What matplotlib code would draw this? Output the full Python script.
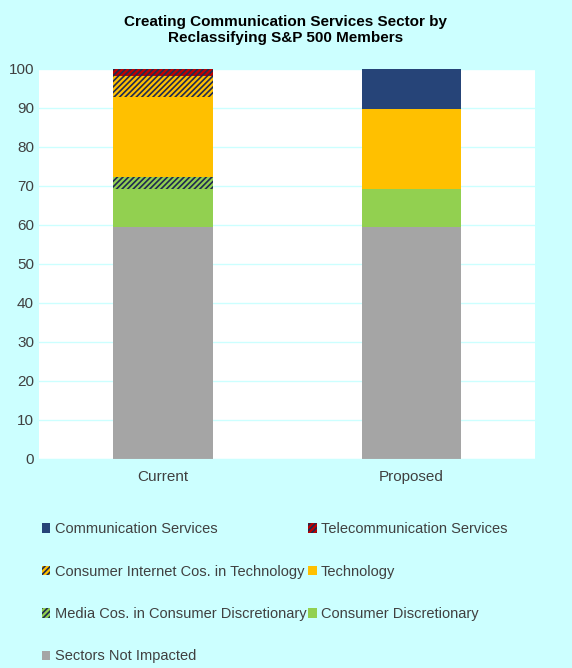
import matplotlib.pyplot as plt
import matplotlib as mpl

plt.rcParams['font.family'] = ['Liberation Sans', 'DejaVu Sans']
mpl.rcParams['hatch.linewidth'] = 1.2

categories = ["Current", "Proposed"]
not_impacted = [59.5, 59.5]
cons_disc = [9.7, 9.8]
media = [3.0, 0.0]
technology = [20.5, 20.5]
internet = [5.4, 0.0]
telecom = [1.9, 0.0]
comm_services = [0.0, 10.2]

series = [
    ("Sectors Not Impacted", not_impacted, "#A5A5A5", None),
    ("Consumer Discretionary", cons_disc, "#92D050", None),
    ("Media Cos. in Consumer Discretionary", media, "#92D050", "//////"),
    ("Technology", technology, "#FFC000", None),
    ("Consumer Internet Cos. in Technology", internet, "#FFC000", "//////"),
    ("Telecommunication Services", telecom, "#C00000", "//////"),
    ("Communication Services", comm_services, "#264478", None),
]

fig = plt.figure(figsize=(5.72, 6.68), dpi=100)
fig.patch.set_facecolor("#CCFFFF")
ax = fig.add_axes([0.068, 0.313, 0.868, 0.584])

bottom = [0.0, 0.0]
handles = {}
for name, vals, color, hatch in series:
    b = ax.bar(categories, vals, width=0.4, bottom=bottom, color=color,
               hatch=hatch, edgecolor="#1F2A50" if hatch else color, linewidth=0)
    handles[name] = b
    bottom = [bottom[i] + vals[i] for i in range(2)]

ax.set_ylim(0, 100)
ax.set_xlim(-0.5, 1.5)
ax.set_yticks(range(0, 101, 10))
ax.yaxis.grid(True, color="#CCFFFF", linewidth=1)
ax.set_axisbelow(True)
for s in ax.spines.values():
    s.set_visible(False)
ax.spines["bottom"].set_visible(True)
ax.spines["bottom"].set_color("#CCFFFF")
ax.tick_params(length=0, labelsize=11, colors="#404040")
ax.tick_params(axis="x", pad=8)

fig.suptitle("Creating Communication Services Sector by\nReclassifying S&P 500 Members",
             y=0.978, fontsize=11, fontweight="bold")

order = ["Communication Services", "Telecommunication Services",
         "Consumer Internet Cos. in Technology", "Technology",
         "Media Cos. in Consumer Discretionary", "Consumer Discretionary",
         "Sectors Not Impacted"]
# matplotlib fills legend column by column, so split row-major order
legend_order = order[0::2] + order[1::2]
leg = fig.legend([handles[n] for n in legend_order], legend_order, ncol=2,
                 loc="upper left", bbox_to_anchor=(0.05, 0.238), frameon=False,
                 fontsize=10.5, handlelength=0.6, handleheight=0.6,
                 handletextpad=0.3, columnspacing=0.1, labelspacing=1.95)
for t in leg.get_texts():
    t.set_color("#404040")

fig.savefig("out.png", dpi=100, facecolor=fig.get_facecolor())
